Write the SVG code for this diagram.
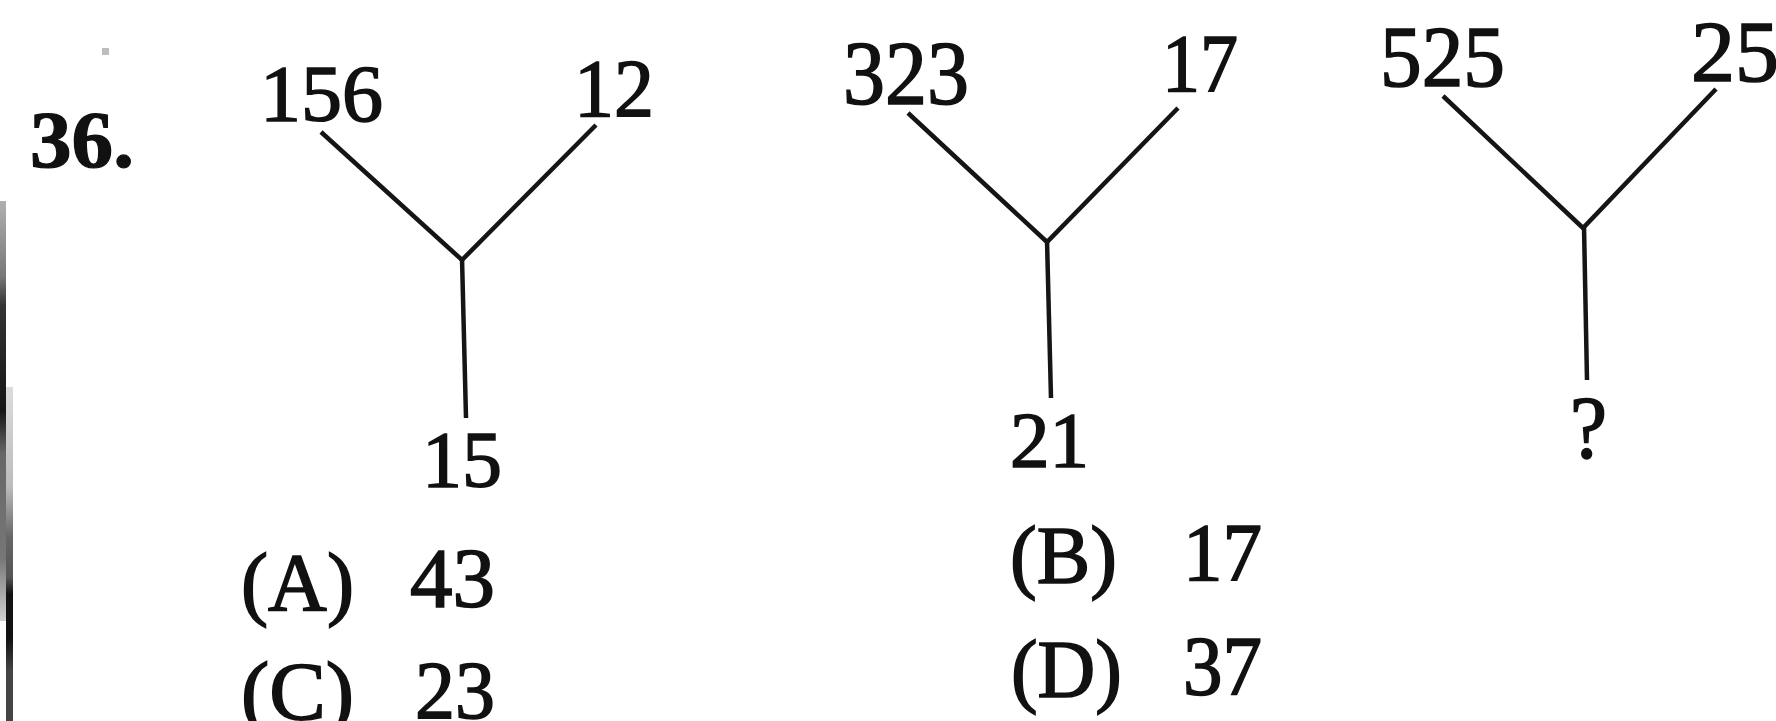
<svg xmlns="http://www.w3.org/2000/svg" width="1776" height="721" viewBox="0 0 1776 721">
  <defs>
    <style>
      .num { font-family: "Liberation Serif", "Times New Roman", serif; fill: #111; stroke: #111; stroke-width: 1.6; }
      .bold { font-weight: bold; stroke-width: 1.2; }
      .edge { stroke: #151515; stroke-width: 4.5; fill: none; stroke-linecap: butt; stroke-linejoin: miter; }
    </style>
    <linearGradient id="barLeft" x1="0" y1="0" x2="0" y2="1">
      <stop offset="0" stop-color="#b0b0b0"/>
      <stop offset="0.18" stop-color="#777"/>
      <stop offset="0.25" stop-color="#333"/>
      <stop offset="0.5" stop-color="#161616"/>
      <stop offset="0.6" stop-color="#666"/>
      <stop offset="0.85" stop-color="#777"/>
      <stop offset="1" stop-color="#d0d0d0"/>
    </linearGradient>
    <linearGradient id="barRight" x1="0" y1="0" x2="0" y2="1">
      <stop offset="0" stop-color="#dcdcdc"/>
      <stop offset="0.3" stop-color="#bbb"/>
      <stop offset="0.45" stop-color="#666"/>
      <stop offset="0.57" stop-color="#555"/>
      <stop offset="0.62" stop-color="#111"/>
      <stop offset="0.75" stop-color="#111"/>
      <stop offset="0.85" stop-color="#444"/>
      <stop offset="1" stop-color="#444"/>
    </linearGradient>
  </defs>

  <rect width="1776" height="721" fill="#ffffff"/>

  <!-- page margin rule on the left edge -->
  <g id="margin-rule">
    <rect x="0" y="201" width="6" height="420" fill="url(#barLeft)"/>
    <rect x="6" y="387" width="7" height="334" fill="url(#barRight)"/>
    <rect x="102" y="48" width="7" height="7" fill="#bdbdbd"/>
  </g>

  <!-- question number -->
  <g id="q-number">
    <text class="num bold" x="30" y="167" font-size="81" textLength="104" lengthAdjust="spacingAndGlyphs">36.</text>
  </g>

  <!-- connectors of the three Y figures -->
  <g id="connectors">
    <polyline class="edge" points="321,132 462,260 596,125"/>
    <line class="edge" x1="462" y1="258" x2="466" y2="418"/>
    <polyline class="edge" points="908,113 1047,242 1178,108"/>
    <line class="edge" x1="1047" y1="240" x2="1051" y2="398"/>
    <polyline class="edge" points="1443,96 1583,228 1716,89"/>
    <line class="edge" x1="1584" y1="226" x2="1587" y2="380"/>
  </g>

  <!-- figure 1 -->
  <g id="fig1-left"><text class="num" x="260" y="121" font-size="80" textLength="123" lengthAdjust="spacingAndGlyphs">156</text></g>
  <g id="fig1-right"><text class="num" x="574" y="116" font-size="83" textLength="80" lengthAdjust="spacingAndGlyphs">12</text></g>
  <g id="fig1-bottom"><text class="num" x="422" y="487" font-size="81" textLength="80" lengthAdjust="spacingAndGlyphs">15</text></g>

  <!-- figure 2 -->
  <g id="fig2-left"><text class="num" x="843" y="104" font-size="90" textLength="126" lengthAdjust="spacingAndGlyphs">323</text></g>
  <g id="fig2-right"><text class="num" x="1162" y="91" font-size="83" textLength="76" lengthAdjust="spacingAndGlyphs">17</text></g>
  <g id="fig2-bottom"><text class="num" x="1010" y="466" font-size="78" textLength="79" lengthAdjust="spacingAndGlyphs">21</text></g>

  <!-- figure 3 -->
  <g id="fig3-left"><text class="num" x="1380" y="86" font-size="86" textLength="125" lengthAdjust="spacingAndGlyphs">525</text></g>
  <g id="fig3-right"><text class="num" x="1691" y="81" font-size="86" textLength="88" lengthAdjust="spacingAndGlyphs">25</text></g>
  <g id="fig3-bottom"><text class="num" x="1570" y="457" font-size="88" textLength="37" lengthAdjust="spacingAndGlyphs">?</text></g>

  <!-- answer options -->
  <g id="opt-a">
    <text class="num" x="241" y="610" font-size="83" textLength="113" lengthAdjust="spacingAndGlyphs">(A)</text>
    <text class="num" x="410" y="607" font-size="84" textLength="85" lengthAdjust="spacingAndGlyphs">43</text>
  </g>
  <g id="opt-b">
    <text class="num" x="1010" y="583" font-size="83" textLength="107" lengthAdjust="spacingAndGlyphs">(B)</text>
    <text class="num" x="1183" y="580" font-size="83" textLength="79" lengthAdjust="spacingAndGlyphs">17</text>
  </g>
  <g id="opt-c">
    <text class="num" x="241" y="719" font-size="83" textLength="113" lengthAdjust="spacingAndGlyphs">(C)</text>
    <text class="num" x="415" y="718" font-size="83" textLength="80" lengthAdjust="spacingAndGlyphs">23</text>
  </g>
  <g id="opt-d">
    <text class="num" x="1011" y="697" font-size="82" textLength="111" lengthAdjust="spacingAndGlyphs">(D)</text>
    <text class="num" x="1183" y="695" font-size="84" textLength="79" lengthAdjust="spacingAndGlyphs">37</text>
  </g>
</svg>
